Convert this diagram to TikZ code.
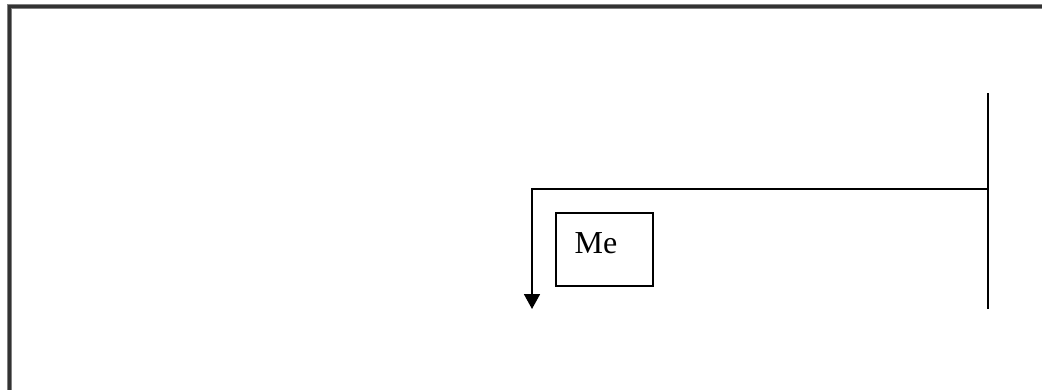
\documentclass[tikz,border=0pt]{standalone}
\usepackage{fontspec}
\setmainfont{Liberation Serif}
\usetikzlibrary{arrows.meta}
\begin{document}
\begin{tikzpicture}[x=1pt,y=-1pt,
  conn/.style={line width=1.8pt,black},
  frameline/.style={line width=4.5pt,black!50},
  frameinner/.style={line width=2.5pt,black!80},
  mebox/.style={draw,line width=1.8pt,minimum width=97pt,minimum height=73pt,inner sep=0pt}]
\useasboundingbox (0,0) rectangle (1042,389);
% frame (left and top edges only)
\draw[frameline] (9.5,400) -- (9.5,6.5) -- (1050,6.5);
\draw[frameinner] (9.5,400) -- (9.5,6.5) -- (1050,6.5);
% vertical bar
\coordinate (vt) at (988,93);
\coordinate (vb) at (988,309);
\coordinate (j) at (988,189);
\coordinate (c) at (532,189);
\coordinate (tip) at (532,309);
\draw[conn] (vt) -- (vb);
\draw[conn,-{Triangle[length=15pt,width=16pt]}] (j) -- (c) -- (tip);
% box
\node[mebox] (me) at (604.5,249.5) {};
\node[anchor=base west,font=\fontsize{32}{38}\selectfont,inner sep=0pt] (metext) at (574.5,253.5) {Me};
\end{tikzpicture}
\end{document}
